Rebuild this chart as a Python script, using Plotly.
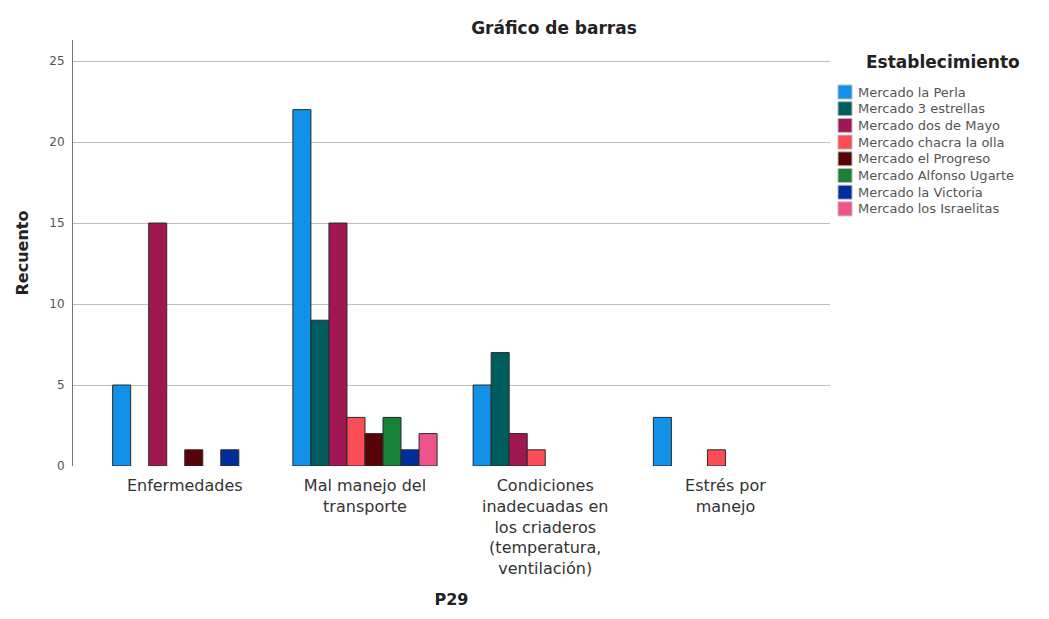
import plotly.graph_objects as go

categorias = [
    "Enfermedades",
    "Mal manejo del<br>transporte",
    "Condiciones<br>inadecuadas en<br>los criaderos<br>(temperatura,<br>ventilación)",
    "Estrés por<br>manejo",
]

establecimientos = [
    "Mercado la Perla",
    "Mercado 3 estrellas",
    "Mercado dos de Mayo",
    "Mercado chacra la olla",
    "Mercado el Progreso",
    "Mercado Alfonso Ugarte",
    "Mercado la Victoria",
    "Mercado los Israelitas",
]

# recuento por establecimiento, en el orden de categorias
perla = [5, 22, 5, 3]
tres_estrellas = [0, 9, 7, 0]
dos_de_mayo = [15, 15, 2, 0]
chacra_la_olla = [0, 3, 1, 1]
progreso = [1, 2, 0, 0]
alfonso_ugarte = [0, 3, 0, 0]
victoria = [1, 1, 0, 0]
israelitas = [0, 2, 0, 0]

valores = [perla, tres_estrellas, dos_de_mayo, chacra_la_olla,
           progreso, alfonso_ugarte, victoria, israelitas]

colores = ["#1192e8", "#005d5d", "#9f1853", "#fa4d56",
           "#570408", "#198038", "#002d9c", "#ee538b"]

W, H = 1049, 619
OFF = 8  # margen del body de la pagina
# bordes del area de trazado en la captura: x 73..830, y 40..466
L, T = 73 - OFF, 40 - OFF
R = W - (830 - OFF)
B = H - (466 - OFF)

fig = go.Figure()
for nombre, y, c in zip(establecimientos, valores, colores):
    # los ceros no se dibujan (sin borde en la base)
    y_vis = [v if v > 0 else None for v in y]
    fig.add_trace(go.Bar(
        x=categorias, y=y_vis, name=nombre, showlegend=False,
        marker=dict(color=c, line=dict(color="#2a2a2a", width=1)),
    ))


# pixeles de la captura -> coordenadas paper
def px_x(p):
    return (p - OFF - L) / (W - L - R)


def px_y(p):
    return (H - B - (p - OFF)) / (H - T - B)


# leyenda dibujada a mano (SPSS usa filas mas juntas que plotly)
shapes = []
annotations = [dict(
    text="<b>Establecimiento</b>", xref="paper", yref="paper",
    x=px_x(943), y=px_y(62), xanchor="center", yanchor="middle",
    showarrow=False, font=dict(size=17, color="#222"),
)]
for i, (nombre, c) in enumerate(zip(establecimientos, colores)):
    yc = 92 + i * 16.7
    shapes.append(dict(
        type="rect", xref="paper", yref="paper",
        x0=px_x(838), x1=px_x(852), y0=px_y(yc - 7), y1=px_y(yc + 7),
        fillcolor=c, line=dict(color="#bbbbbb", width=1),
    ))
    annotations.append(dict(
        text=nombre, xref="paper", yref="paper",
        x=px_x(856), y=px_y(yc), xanchor="left", yanchor="middle",
        showarrow=False, font=dict(size=13, color="#555"),
    ))

fig.update_layout(
    width=W, height=H,
    barmode="group", bargap=0.2, bargroupgap=0,
    plot_bgcolor="white", paper_bgcolor="white",
    margin=dict(l=L, r=R, t=T, b=B, autoexpand=False),
    font=dict(family="DejaVu Sans, Arial, sans-serif", color="#222"),
    title=dict(text="<b>Gráfico de barras</b>", x=(554 - OFF) / W, xanchor="center",
               y=1 - (28 - OFF) / H, yanchor="middle",
               font=dict(size=17, color="#222")),
    shapes=shapes,
    annotations=annotations,
)

fig.update_xaxes(
    type="category", range=[-0.62, 3.58],
    showline=False, showgrid=False, ticks="", automargin=False,
    ticklabelstandoff=8,
    tickfont=dict(size=16, color="#333"),
    title=dict(text="<b>P29</b>", font=dict(size=16, color="#222"), standoff=16),
)
fig.update_yaxes(
    range=[0, 26.3], tickvals=[0, 5, 10, 15, 20, 25],
    showline=True, linecolor="#777", linewidth=1,
    showgrid=True, gridcolor="#bdbdbd", gridwidth=1,
    zeroline=False, ticks="", automargin=False,
    ticklabelstandoff=5,
    tickfont=dict(size=12, color="#555"),
    title=dict(text="<b>Recuento</b>", font=dict(size=16, color="#222"), standoff=16),
)

fig.write_html("out.html")
